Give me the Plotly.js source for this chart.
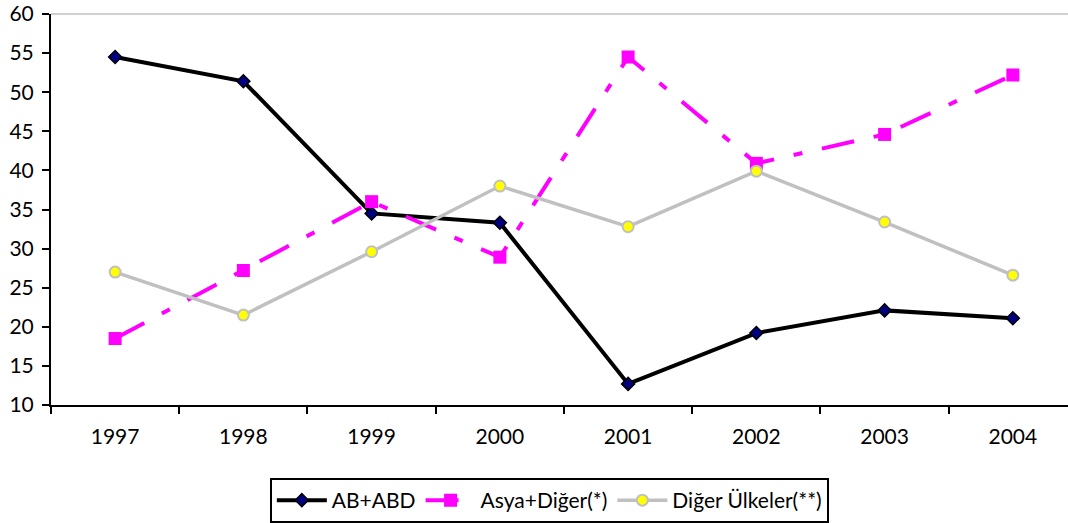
<!DOCTYPE html>
<html>
<head>
<meta charset="utf-8">
<script src="https://cdn.plot.ly/plotly-3.0.1.min.js"></script>
<style>html,body{margin:0;padding:0;background:#fff;}#chart{width:1068px;height:523px;}</style>
</head>
<body>
<div id="chart"></div>
<script>
const years = ["1997","1998","1999","2000","2001","2002","2003","2004"];
const abAbd = [54.5, 51.4, 34.5, 33.3, 12.7, 19.2, 22.1, 21.1];
const asyaDiger = [18.5, 27.2, 36.0, 28.9, 54.5, 40.9, 44.6, 52.2];
const digerUlkeler = [27.0, 21.5, 29.6, 38.0, 32.8, 39.9, 33.4, 26.6];
const yTicks = [10, 15, 20, 25, 30, 35, 40, 45, 50, 55, 60];
const gridTicks = [15, 20, 25, 30, 35, 40, 45, 50, 55];

const FONT = "Lato, 'DejaVu Sans', sans-serif";

const traces = [
  {
    x: years, y: abAbd, name: "AB+ABD", type: "scatter", mode: "lines+markers",
    line: {color: "#000000", width: 4},
    marker: {symbol: "diamond", size: 10, color: "#000080", line: {color: "#000000", width: 1.5}}
  },
  {
    x: years, y: asyaDiger, name: "Asya+Diğer(*)", type: "scatter", mode: "lines+markers",
    line: {color: "#FF00FF", width: 4, dash: "33px,20px,9px,20px"},
    marker: {symbol: "square", size: 13, color: "#FF00FF", line: {width: 0}}
  },
  {
    x: years, y: digerUlkeler, name: "Diğer Ülkeler(**)", type: "scatter", mode: "lines+markers",
    line: {color: "#C0C0C0", width: 3.5},
    marker: {symbol: "circle", size: 11, color: "#FFFF00", line: {color: "#C0C0C0", width: 2}}
  }
];

const layout = {
  width: 1068, height: 523,
  margin: {l: 51, r: 0, t: 14, b: 118, pad: 0},
  paper_bgcolor: "#ffffff", plot_bgcolor: "#ffffff",
  font: {family: FONT, size: 21, color: "#000"},
  showlegend: true,
  legend: {
    orientation: "h", x: 0.49, xanchor: "center", y: -0.187, yanchor: "top",
    bordercolor: "#000", borderwidth: 2, bgcolor: "#fff",
    font: {family: FONT, size: 21, color: "#000"},
    itemwidth: 50, traceorder: "normal"
  },
  xaxis: {
    type: "category", range: [-0.5, 7.43], fixedrange: true,
    showgrid: false, zeroline: false,
    showline: true, linecolor: "#000", linewidth: 2,
    ticks: "outside", tickson: "boundaries", ticklen: 7, tickwidth: 2, tickcolor: "#000",
    ticklabelstandoff: 12,
    tickfont: {family: FONT, size: 21, color: "#000"}
  },
  yaxis: {
    range: [10, 60], tickvals: yTicks, ticktext: yTicks.map(String),
    showgrid: false, zeroline: false,
    showline: true, linecolor: "#000", linewidth: 2,
    ticks: "outside", ticklen: 7, tickwidth: 2, tickcolor: "#000",
    ticklabelstandoff: 4,
    tickfont: {family: FONT, size: 21, color: "#000"}
  },
  yaxis2: {
    overlaying: "y", anchor: "x", range: [10, 60], tickvals: gridTicks,
    showgrid: true, gridcolor: "#000", gridwidth: 2,
    showticklabels: false, ticks: "", showline: false, zeroline: false
  },
  shapes: [
    {type: "line", xref: "paper", yref: "paper", x0: 0, x1: 1, y0: 1, y1: 1,
     line: {color: "#D0D0D0", width: 2}, layer: "below"}
  ]
};

Plotly.newPlot("chart", traces, layout, {displayModeBar: false, staticPlot: true});
</script>
</body>
</html>
